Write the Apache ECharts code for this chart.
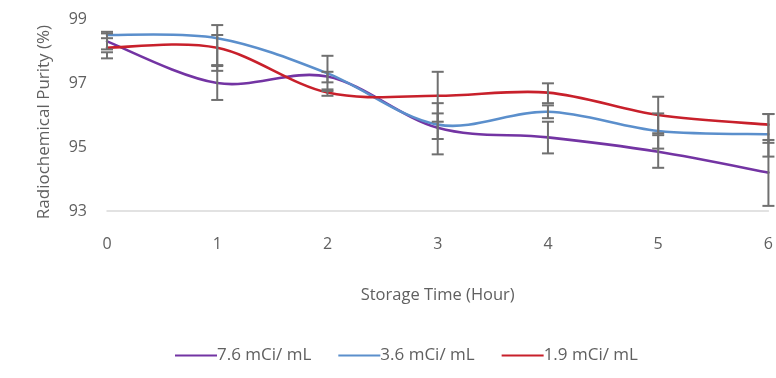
<!DOCTYPE html>
<html><head><meta charset="utf-8">
<script src="https://cdn.jsdelivr.net/npm/echarts@6/dist/echarts.min.js"></script>
<style>html,body{margin:0;padding:0;background:#fff}#c{width:776px;height:378px}</style>
</head><body><div id="c"></div>
<script>
const hours = [0, 1, 2, 3, 4, 5, 6];
const seriesNames = ['7.6 mCi/ mL', '3.6 mCi/ mL', '1.9 mCi/ mL'];
const purity76 = [98.3, 97.0, 97.2, 95.6, 95.3, 94.85, 94.2];
const purity36 = [98.5, 98.4, 97.3, 95.7, 96.1, 95.5, 95.4];
const purity19 = [98.1, 98.1, 96.7, 96.6, 96.7, 96.0, 95.7];
const low76  = [98.05, 96.47, 97.02, 94.77, 94.80, 94.35, 93.16];
const high76 = [98.55, 97.53, 97.35, 96.37, 95.79, 95.37, 95.22];
const low36  = [98.40, 97.56, 96.75, 95.25, 95.90, 94.95, 94.70];
const high36 = [98.60, 98.81, 97.85, 96.05, 96.30, 96.05, 96.03];
const low19  = [97.77, 97.38, 96.60, 95.79, 96.37, 95.43, 95.13];
const high19 = [97.96, 98.50, 96.80, 97.35, 96.99, 96.57, 96.03];
const yTicks = [93, 95, 97, 99];
const colors = ['#7334A3', '#5B8FCC', '#C8202B'];

const vals = [purity76, purity36, purity19];
const lows = [low76, low36, low19];
const highs = [high76, high36, high19];

const font = '"Open Sans", "Noto Sans", sans-serif';
const gray = '#606060';

function errData(i) {
  return hours.map((h, k) => [h, lows[i][k], highs[i][k]]);
}
function renderErr(params, api) {
  const x = api.value(0);
  const lo = api.coord([x, api.value(1)]);
  const hi = api.coord([x, api.value(2)]);
  const w = 6;
  const st = { stroke: '#707070', lineWidth: 2 };
  return {
    type: 'group',
    children: [
      { type: 'line', shape: { x1: lo[0], y1: lo[1], x2: hi[0], y2: hi[1] }, style: st },
      { type: 'line', shape: { x1: lo[0] - w, y1: lo[1], x2: lo[0] + w, y2: lo[1] }, style: st },
      { type: 'line', shape: { x1: hi[0] - w, y1: hi[1], x2: hi[0] + w, y2: hi[1] }, style: st }
    ]
  };
}
// smoothed line segment (Catmull-Rom style) between data point k and k+1
function makeCurveRenderer(i) {
  return function (params, api) {
    const k = params.dataIndex;
    const n = hours.length;
    if (k >= n - 1) return { type: 'group', children: [] };
    const P = j => api.coord([hours[Math.max(0, Math.min(n - 1, j))], vals[i][Math.max(0, Math.min(n - 1, j))]]);
    const p0 = P(k - 1), p1 = P(k), p2 = P(k + 1), p3 = P(k + 2);
    const t = 1 / 6;
    return {
      type: 'bezierCurve',
      shape: {
        x1: p1[0], y1: p1[1], x2: p2[0], y2: p2[1],
        cpx1: p1[0] + (p2[0] - p0[0]) * t, cpy1: p1[1] + (p2[1] - p0[1]) * t,
        cpx2: p2[0] - (p3[0] - p1[0]) * t, cpy2: p2[1] - (p3[1] - p1[1]) * t
      },
      style: { stroke: colors[i], lineWidth: 2.6, fill: null, lineCap: 'round' }
    };
  };
}

const series = [];
seriesNames.forEach((n, i) => {
  series.push({
    name: n, type: 'custom', renderItem: makeCurveRenderer(i),
    data: hours.map((h, k) => [h, vals[i][k]]),
    encode: { x: 0, y: 1 },
    itemStyle: { color: colors[i] }, z: 2, silent: true
  });
});
seriesNames.forEach((n, i) => {
  series.push({
    type: 'custom', renderItem: renderErr, data: errData(i),
    encode: { x: 0, y: [1, 2] }, z: 3, silent: true
  });
});

const chart = echarts.init(document.getElementById('c'));
chart.setOption({
  animation: false,
  backgroundColor: '#fff',
  color: colors,
  grid: { left: 107, right: 6, top: 19, bottom: 167, containLabel: false },
  xAxis: {
    type: 'value', min: 0, max: 6, interval: 1,
    name: 'Storage Time (Hour)', nameLocation: 'middle', nameGap: 76,
    nameTextStyle: { color: gray, fontFamily: font, fontSize: 16.5 },
    axisLine: { show: true, lineStyle: { color: '#D9D9D9', width: 1.5 } },
    axisTick: { show: false }, splitLine: { show: false },
    axisLabel: { color: gray, fontFamily: font, fontSize: 16, margin: 25 }
  },
  yAxis: {
    type: 'value', min: yTicks[0], max: yTicks[yTicks.length - 1], interval: 2,
    name: 'Radiochemical Purity (%)', nameLocation: 'middle', nameGap: 54,
    nameTextStyle: { color: gray, fontFamily: font, fontSize: 17, padding: [0, 14, 0, 0] },
    axisLine: { show: false }, axisTick: { show: false }, splitLine: { show: false },
    axisLabel: { color: gray, fontFamily: font, fontSize: 16, margin: 20 }
  },
  legend: {
    data: seriesNames, bottom: 9, left: 170, itemGap: 27,
    itemWidth: 42, itemHeight: 2, icon: 'rect',
    textStyle: { color: gray, fontFamily: font, fontSize: 17, padding: [0, 0, 0, -5] }
  },
  series: series
});
</script></body></html>
